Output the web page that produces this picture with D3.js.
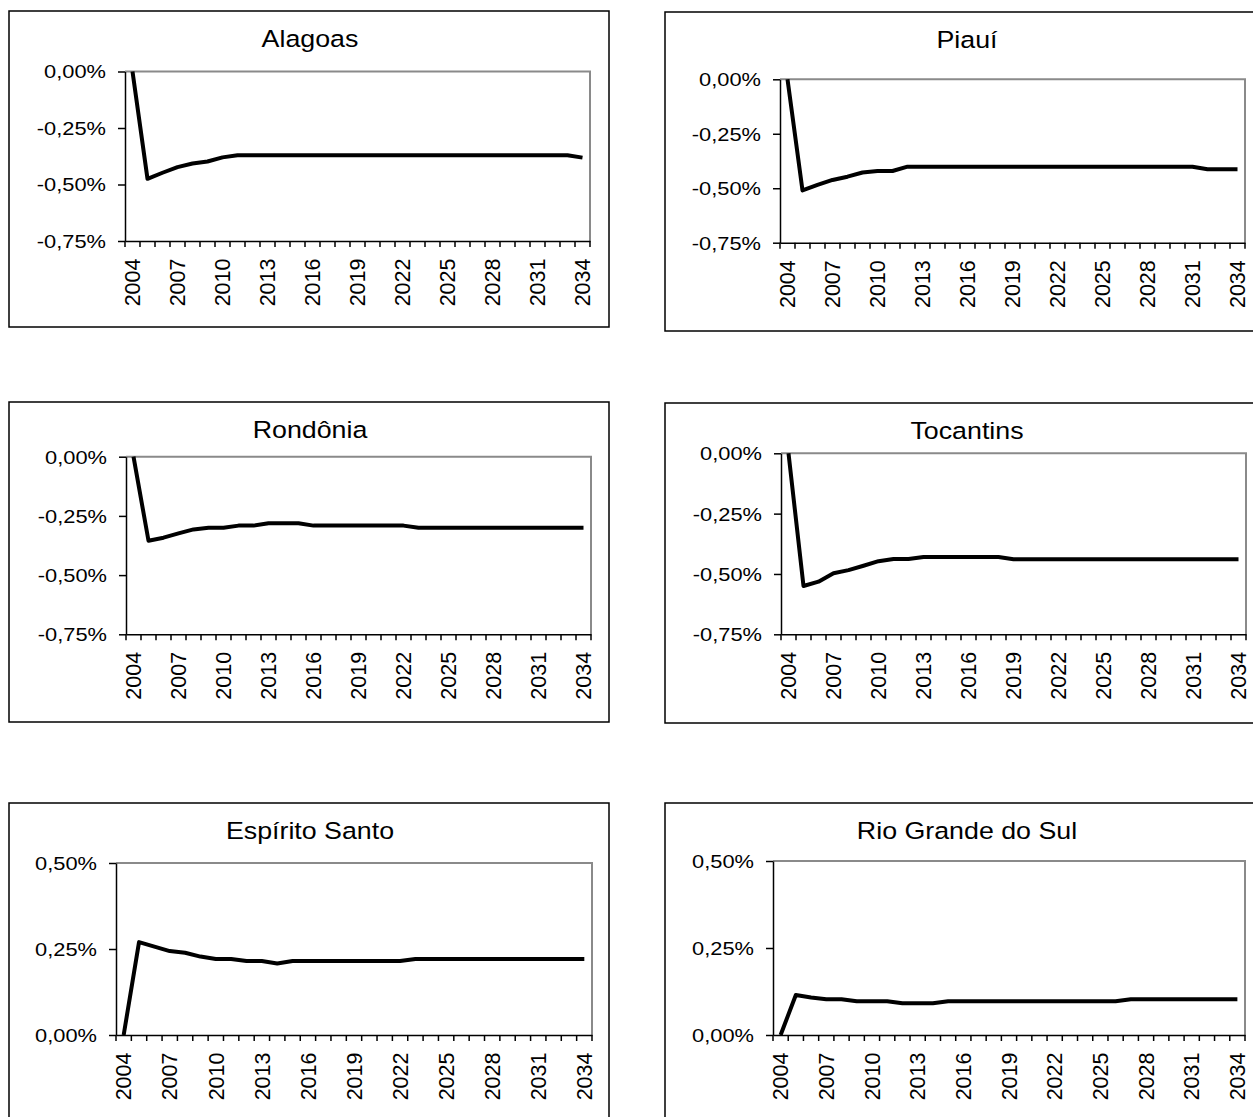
<!DOCTYPE html>
<html>
<head>
<meta charset="utf-8">
<script src="https://cdn.jsdelivr.net/npm/d3@7"></script>
<style>
  html, body { margin: 0; padding: 0; background: #fff; }
  svg { display: block; font-family: Arial, "Liberation Sans", sans-serif; }
</style>
</head>
<body>
<svg id="chart" width="1253" height="1117"></svg>
<script>
// ---------- DATA ----------
const years = [2004,2005,2006,2007,2008,2009,2010,2011,2012,2013,2014,2015,2016,2017,2018,2019,
               2020,2021,2022,2023,2024,2025,2026,2027,2028,2029,2030,2031,2032,2033,2034];
const labelYears = [2004,2007,2010,2013,2016,2019,2022,2025,2028,2031,2034];

const titles = ["Alagoas", "Piauí", "Rondônia", "Tocantins", "Espírito Santo", "Rio Grande do Sul"];

// values in percent
const alagoas = [0,-0.475,-0.448,-0.423,-0.407,-0.398,-0.380,-0.371,-0.371,-0.371,-0.371,-0.371,-0.371,-0.371,-0.371,-0.371,
                 -0.371,-0.371,-0.371,-0.371,-0.371,-0.371,-0.371,-0.371,-0.371,-0.371,-0.371,-0.371,-0.371,-0.371,-0.381];
const piaui = [0,-0.510,-0.485,-0.462,-0.447,-0.428,-0.421,-0.421,-0.401,-0.401,-0.401,-0.401,-0.401,-0.401,-0.401,-0.401,
               -0.401,-0.401,-0.401,-0.401,-0.401,-0.401,-0.401,-0.401,-0.401,-0.401,-0.401,-0.401,-0.413,-0.413,-0.413];
const rondonia = [0,-0.355,-0.342,-0.324,-0.307,-0.300,-0.300,-0.291,-0.291,-0.281,-0.281,-0.281,-0.291,-0.291,-0.291,-0.291,
                  -0.291,-0.291,-0.291,-0.300,-0.300,-0.300,-0.300,-0.300,-0.300,-0.300,-0.300,-0.300,-0.300,-0.300,-0.300];
const tocantins = [0,-0.550,-0.532,-0.497,-0.484,-0.466,-0.447,-0.438,-0.438,-0.430,-0.430,-0.430,-0.430,-0.430,-0.430,-0.439,
                   -0.439,-0.439,-0.439,-0.439,-0.439,-0.439,-0.439,-0.439,-0.439,-0.439,-0.439,-0.439,-0.439,-0.439,-0.439];
const espiritoSanto = [0,0.270,0.257,0.244,0.239,0.228,0.221,0.221,0.215,0.215,0.208,0.215,0.215,0.215,0.215,0.215,
                       0.215,0.215,0.215,0.221,0.221,0.221,0.221,0.221,0.221,0.221,0.221,0.221,0.221,0.221,0.221];
const rioGrandeDoSul = [0,0.115,0.108,0.103,0.103,0.097,0.097,0.097,0.091,0.091,0.091,0.097,0.097,0.097,0.097,0.097,
                        0.097,0.097,0.097,0.097,0.097,0.097,0.097,0.103,0.103,0.103,0.103,0.103,0.103,0.103,0.103];

const negTicks = [0, -0.25, -0.5, -0.75];
const posTicks = [0.5, 0.25, 0];

const seriesList = [alagoas, piaui, rondonia, tocantins, espiritoSanto, rioGrandeDoSul];
const domains = [[-0.75,0],[-0.75,0],[-0.75,0],[-0.75,0],[0,0.5],[0,0.5]];
const tickSets = [negTicks, negTicks, negTicks, negTicks, posTicks, posTicks];

// ---------- LAYOUT ----------
const layout = [
  {box:[9,11,600,316],   plot:[125,71.5,590,241]},
  {box:[665,12,600,319], plot:[780,79.3,1245,242.7]},
  {box:[9,402,600,320],  plot:[126,456.7,591,634.3]},
  {box:[665,403,600,320],plot:[781,453.3,1246,634.3]},
  {box:[9,803,600,400],  plot:[116,863,592,1035]},
  {box:[665,803,600,400],plot:[773,861,1245,1035]}
];

const SX = 1.15;
const locale = d3.formatLocale({decimal: ",", thousands: ".", grouping: [3], currency: ["R$", ""], minus: "-"});
const pct = locale.format(".2%");

const svg = d3.select("#chart");

layout.forEach((L, k) => {
  const g = svg.append("g");
  const [bx, by, bw, bh] = L.box;
  const [px0, py0, px1, py1] = L.plot;

  // outer box
  g.append("rect").attr("x", bx).attr("y", by).attr("width", bw).attr("height", bh)
    .attr("fill", "none").attr("stroke", "#000").attr("stroke-width", 1.5);

  // title
  g.append("text")
    .attr("transform", `translate(${bx + bw/2 + (k % 2 ? 2 : 1)},${by + 35.5}) scale(${SX},1)`)
    .attr("text-anchor", "middle").attr("font-size", 23.3).attr("fill", "#000")
    .text(titles[k]);

  const x = d3.scaleBand().domain(years).range([px0, px1]).paddingInner(0).paddingOuter(0);
  const y = d3.scaleLinear().domain(domains[k]).range([py1, py0]);

  // gray top & right border of plot area
  g.append("path")
    .attr("d", `M${px0},${py0}H${px1}V${py1}`)
    .attr("fill", "none").attr("stroke", "#8a8a8a").attr("stroke-width", 2);

  // y axis
  const yAxis = d3.axisLeft(y).tickValues(tickSets[k]).tickSize(7).tickPadding(12).tickSizeOuter(0)
    .tickFormat(d => pct(d / 100));
  const ya = g.append("g").attr("transform", `translate(${px0},0)`).call(yAxis);
  ya.select(".domain").attr("stroke", "#000").attr("stroke-width", 1.5);
  ya.selectAll(".tick line").attr("stroke", "#000").attr("stroke-width", 1.5);
  ya.selectAll(".tick text")
    .attr("font-size", 19).attr("font-family", "Arial, 'Liberation Sans', sans-serif").attr("fill", "#000")
    .attr("x", -19 / SX).attr("dy", "0.34em")
    .attr("transform", `scale(${SX},1)`);

  // x axis (labels at category centres)
  const xAxis = d3.axisBottom(x).tickValues(labelYears).tickSize(0).tickPadding(0).tickSizeOuter(0);
  const xa = g.append("g").attr("transform", `translate(0,${py1})`).call(xAxis);
  xa.select(".domain").attr("stroke", "#000").attr("stroke-width", 1.5);
  xa.selectAll(".tick text")
    .attr("font-size", 21.5).attr("font-family", "Arial, 'Liberation Sans', sans-serif").attr("fill", "#000")
    .attr("text-anchor", "end").attr("x", 0).attr("y", 0).attr("dy", "0.36em")
    .attr("transform", "translate(0,17.5) rotate(-90)");

  // boundary tick marks between categories
  const bounds = d3.range(years.length + 1).map(i => px0 + i * x.step());
  g.append("g").selectAll("line").data(bounds).join("line")
    .attr("x1", d => d).attr("x2", d => d).attr("y1", py1).attr("y2", py1 + 6)
    .attr("stroke", "#000").attr("stroke-width", 1.5);

  // data line
  const line = d3.line()
    .x((d, i) => x(years[i]) + x.bandwidth() / 2)
    .y(d => y(d));
  g.append("path").datum(seriesList[k])
    .attr("d", line)
    .attr("fill", "none").attr("stroke", "#000").attr("stroke-width", 4)
    .attr("stroke-linejoin", "round");
});
</script>
</body>
</html>
